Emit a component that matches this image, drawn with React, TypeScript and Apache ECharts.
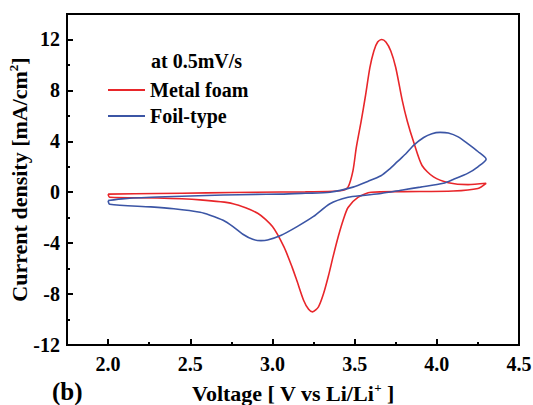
import { useEffect, useRef } from 'react';
import * as echarts from 'echarts';

// Metal foam (red): anodic sweep 2.0 -> 4.3 V, then cathodic sweep back to 2.0 V
const metalFoamV = [
  2.0, 2.3, 2.6, 2.9, 3.2, 3.37, 3.43, 3.46, 3.49, 3.51, 3.54, 3.565, 3.593, 3.617, 3.64, 3.665,
  3.69, 3.72, 3.75, 3.79, 3.82, 3.86, 3.91, 3.98, 4.07, 4.19, 4.3,
  4.25, 4.1, 3.8, 3.6, 3.52, 3.46, 3.43, 3.4, 3.37, 3.34, 3.31, 3.28, 3.244, 3.22, 3.19,
  3.15, 3.12, 3.07, 3.0, 2.91, 2.76, 2.56, 2.3, 2.01, 2.0,
];
const metalFoamI = [
  -0.15, -0.1, -0.05, 0, 0.03, 0.08, 0.15, 0.4, 1.7, 3.5, 5.6, 7.5, 9.8, 11.1, 11.8, 12.0,
  11.8, 11.1, 9.8, 7.2, 5.6, 3.9, 2.1, 1.2, 0.75, 0.6, 0.7,
  0.3, 0.1, 0.05, 0.0, -0.4, -1.2, -2.2, -3.5, -5.0, -6.6, -8.0, -9.0, -9.4, -9.2, -8.5,
  -7.0, -5.9, -4.3, -2.7, -1.65, -0.9, -0.6, -0.45, -0.4, -0.15,
];

// Foil-type (blue)
const foilV = [
  2.0, 2.1, 2.3, 2.5, 2.7, 2.9, 3.05, 3.2, 3.35, 3.49, 3.58, 3.66, 3.71, 3.76, 3.81, 3.86, 3.92, 3.97,
  4.02, 4.07, 4.13, 4.19, 4.25, 4.3,
  4.25, 4.19, 4.1, 4.04, 3.9, 3.8, 3.66, 3.55, 3.46, 3.35, 3.25, 3.15, 3.05, 2.97,
  2.93, 2.88, 2.82, 2.76, 2.7, 2.62, 2.56, 2.4, 2.26, 2.01, 2.0,
];
const foilI = [
  -0.65, -0.5, -0.38, -0.3, -0.22, -0.17, -0.15, -0.08, 0.0, 0.4, 0.85, 1.3, 1.8, 2.4, 3.0, 3.7, 4.3, 4.6,
  4.7, 4.65, 4.35, 3.8, 3.2, 2.6,
  2.0, 1.5, 1.0, 0.7, 0.4, 0.2, -0.1, -0.25, -0.4, -0.9, -1.9, -2.7, -3.4, -3.75,
  -3.8, -3.7, -3.3, -2.7, -2.2, -1.8, -1.57, -1.3, -1.15, -0.95, -0.65,
];

const xMajorTicks = [2.0, 2.5, 3.0, 3.5, 4.0, 4.5];
const xMinorTicks = [2.25, 2.75, 3.25, 3.75, 4.25];
const yMajorTicks = [-12, -8, -4, 0, 4, 8, 12];
const yMinorTicks = [-10, -6, -2, 2, 6, 10];

const FONT = '"Liberation Serif", "Times New Roman", serif';

const zip = (v: number[], i: number[]) => v.map((x, k) => [x, i[k]]);

export default function App() {
  const ref = useRef<HTMLDivElement>(null);
  useEffect(() => {
    document.body.style.margin = '0';
    const chart = echarts.init(ref.current!, null, { renderer: 'svg' });
    const txt = { fontFamily: FONT, fontWeight: 'bold' as const, color: '#000' };
    const nameRich = {
      t: { ...txt, fontSize: 22 },
      s: { ...txt, fontSize: 13, verticalAlign: 'top' as const, padding: [0, 0, 12, 0] },
    };
    const tickLine = { color: '#000', width: 2 };
    chart.setOption({
      animation: false,
      backgroundColor: '#fff',
      grid: {
        left: 67, right: 14, top: 14, bottom: 60,
        show: true, borderColor: '#000', borderWidth: 2,
        outerBoundsMode: 'none',
      },
      title: {
        text: 'at 0.5mV/s', left: 151, top: 51, padding: 0,
        textStyle: { ...txt, fontSize: 20 },
      },
      legend: {
        orient: 'vertical', left: 108, top: 80, padding: 0,
        icon: 'rect', itemWidth: 37, itemHeight: 2, itemGap: 6,
        textStyle: { ...txt, fontSize: 20 },
        data: ['Metal foam', 'Foil-type'],
      },
      xAxis: [
        {
          type: 'value', min: 1.75, max: 4.5, position: 'bottom',
          axisLine: { show: true, onZero: false, lineStyle: tickLine },
          axisTick: { show: true, inside: true, length: 6, customValues: xMajorTicks, lineStyle: tickLine },
          axisLabel: { ...txt, fontSize: 20, margin: 9, customValues: xMajorTicks, formatter: (v: number) => v.toFixed(1) },
          splitLine: { show: false },
          name: '{t|Voltage [ V vs Li/Li}{s|+}{t| ]}',
          nameLocation: 'middle', nameGap: 36, nameMoveOverlap: false,
          nameTextStyle: { rich: nameRich },
        },
        {
          type: 'value', min: 1.75, max: 4.5, position: 'bottom',
          axisLine: { show: false, onZero: false },
          axisTick: { show: true, inside: true, length: 3, customValues: xMinorTicks, lineStyle: tickLine },
          axisLabel: { show: false },
          splitLine: { show: false },
        },
      ],
      yAxis: [
        {
          type: 'value', min: -12, max: 14, position: 'left',
          axisLine: { show: true, onZero: false, lineStyle: tickLine },
          axisTick: { show: true, inside: true, length: 6, customValues: yMajorTicks, lineStyle: tickLine },
          axisLabel: { ...txt, fontSize: 20, margin: 7, customValues: yMajorTicks },
          splitLine: { show: false },
          name: '{t|Current density [mA/cm}{s|2}{t|]}',
          nameLocation: 'middle', nameGap: 35, nameMoveOverlap: false,
          nameTextStyle: { rich: nameRich },
        },
        {
          type: 'value', min: -12, max: 14, position: 'left',
          axisLine: { show: false, onZero: false },
          axisTick: { show: true, inside: true, length: 3, customValues: yMinorTicks, lineStyle: tickLine },
          axisLabel: { show: false },
          splitLine: { show: false },
        },
      ],
      series: [
        {
          name: 'Metal foam', type: 'line', xAxisIndex: 0, yAxisIndex: 0,
          data: zip(metalFoamV, metalFoamI), symbol: 'none', smooth: 0.25,
          lineStyle: { color: '#e8262a', width: 1.6 }, itemStyle: { color: '#e8262a' },
        },
        {
          name: 'Foil-type', type: 'line', xAxisIndex: 0, yAxisIndex: 0,
          data: zip(foilV, foilI), symbol: 'none', smooth: 0.25,
          lineStyle: { color: '#3b55a5', width: 1.6 }, itemStyle: { color: '#3b55a5' },
        },
      ],
      graphic: [
        {
          type: 'text', left: 52, top: 379,
          style: { text: '(b)', font: `bold 25px ${FONT}`, fill: '#000' },
        },
      ],
    });
    return () => chart.dispose();
  }, []);
  return <div ref={ref} style={{ width: 533, height: 405 }} />;
}
